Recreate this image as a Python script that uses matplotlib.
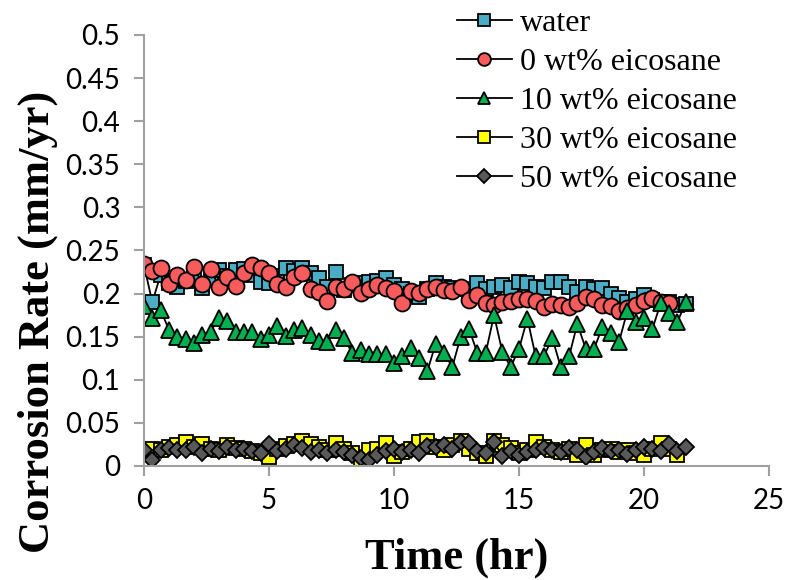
import matplotlib
matplotlib.use("Agg")
import matplotlib.pyplot as plt
import numpy as np

step = 1.0 / 3.0

water = [0.233, 0.190, 0.222, 0.212, 0.208, 0.215, 0.222, 0.206, 0.218, 0.227,
         0.220, 0.227, 0.229, 0.222, 0.214, 0.212, 0.220, 0.230, 0.226, 0.230,
         0.224, 0.218, 0.208, 0.225, 0.204, 0.210, 0.212, 0.213, 0.215, 0.218,
         0.210, 0.205, 0.200, 0.196, 0.205, 0.212, 0.208, 0.206, 0.205, 0.203,
         0.212, 0.205, 0.208, 0.210, 0.206, 0.213, 0.212, 0.208, 0.206, 0.213,
         0.213, 0.208, 0.202, 0.208, 0.205, 0.206, 0.200, 0.195, 0.190, 0.194,
         0.198, 0.192, 0.190, 0.190, 0.187, 0.188]

eic0 = [0.234, 0.226, 0.230, 0.211, 0.222, 0.216, 0.231, 0.211, 0.228, 0.208,
        0.219, 0.209, 0.224, 0.233, 0.230, 0.224, 0.211, 0.208, 0.219, 0.224,
        0.205, 0.202, 0.191, 0.208, 0.205, 0.213, 0.201, 0.205, 0.210, 0.206,
        0.203, 0.189, 0.203, 0.201, 0.205, 0.208, 0.204, 0.203, 0.208, 0.193,
        0.198, 0.189, 0.187, 0.190, 0.191, 0.194, 0.194, 0.191, 0.185, 0.188,
        0.187, 0.184, 0.189, 0.196, 0.194, 0.187, 0.186, 0.180, 0.183, 0.187,
        0.191, 0.195, 0.190, 0.189]

eic10 = [0.186, 0.172, 0.181, 0.158, 0.150, 0.147, 0.143, 0.152, 0.156, 0.172,
         0.168, 0.156, 0.156, 0.155, 0.147, 0.152, 0.162, 0.151, 0.158, 0.160,
         0.152, 0.145, 0.144, 0.158, 0.148, 0.131, 0.135, 0.130, 0.130, 0.130,
         0.120, 0.128, 0.137, 0.125, 0.110, 0.142, 0.131, 0.115, 0.150, 0.159,
         0.131, 0.131, 0.175, 0.132, 0.115, 0.136, 0.171, 0.127, 0.128, 0.148,
         0.115, 0.127, 0.165, 0.136, 0.136, 0.161, 0.154, 0.144, 0.180, 0.167,
         0.172, 0.159, 0.189, 0.177, 0.167, 0.190]

eic30 = [0.017, 0.020, 0.019, 0.022, 0.024, 0.028, 0.022, 0.025, 0.020, 0.018,
         0.024, 0.021, 0.020, 0.017, 0.015, 0.010, 0.020, 0.023, 0.026, 0.029,
         0.026, 0.022, 0.018, 0.027, 0.020, 0.015, 0.008, 0.018, 0.020, 0.027,
         0.012, 0.016, 0.020, 0.028, 0.029, 0.022, 0.018, 0.024, 0.029, 0.020,
         0.015, 0.012, 0.029, 0.024, 0.021, 0.015, 0.018, 0.028, 0.022, 0.018,
         0.016, 0.020, 0.013, 0.024, 0.013, 0.018, 0.020, 0.016, 0.018, 0.015,
         0.013, 0.020, 0.027, 0.020, 0.013]

eic50 = [0.019, 0.007, 0.019, 0.021, 0.019, 0.018, 0.022, 0.015, 0.020, 0.017,
         0.022, 0.019, 0.020, 0.017, 0.015, 0.026, 0.017, 0.020, 0.024, 0.021,
         0.016, 0.018, 0.015, 0.019, 0.016, 0.013, 0.009, 0.007, 0.013, 0.017,
         0.020, 0.016, 0.018, 0.015, 0.023, 0.022, 0.024, 0.020, 0.028, 0.027,
         0.017, 0.015, 0.028, 0.011, 0.017, 0.013, 0.016, 0.019, 0.021, 0.018,
         0.016, 0.021, 0.019, 0.010, 0.016, 0.021, 0.017, 0.019, 0.014, 0.018,
         0.022, 0.020, 0.017, 0.025, 0.017, 0.022]

labels = ["water", "0 wt% eicosane", "10 wt% eicosane", "30 wt% eicosane", "50 wt% eicosane"]
series = [water, eic0, eic10, eic30, eic50]
markers = ["s", "o", "^", "s", "D"]
colors = ["#4BACC6", "#F75B5B", "#00B050", "#FFFF00", "#595959"]
msizes = [10.5, 11.5, 11, 10, 8.5]

xticks = [0, 5, 10, 15, 20, 25]
yticks = [0, 0.05, 0.1, 0.15, 0.2, 0.25, 0.3, 0.35, 0.4, 0.45, 0.5]
ytick_labels = ["0", "0.05", "0.1", "0.15", "0.2", "0.25", "0.3", "0.35", "0.4", "0.45", "0.5"]

fig = plt.figure(figsize=(7.88, 5.8), dpi=100)
ax = fig.add_axes([0.1827, 0.1966, 0.976 - 0.1827, 0.9397 - 0.1966])

for vals, lab, mk, col, ms in zip(series, labels, markers, colors, msizes):
    t = np.arange(len(vals)) * step
    ax.plot(t, vals, color="black", lw=1.3, marker=mk, markersize=ms,
            markerfacecolor=col, markeredgecolor="black", markeredgewidth=1.3,
            label=lab)

ax.set_xlim(0, 25)
ax.set_ylim(0, 0.5)
ax.set_xticks(xticks)
ax.set_yticks(yticks)
ax.set_yticklabels(ytick_labels)

for s in ["top", "right"]:
    ax.spines[s].set_visible(False)
for s in ["left", "bottom"]:
    ax.spines[s].set_color("#A0A0A0")
    ax.spines[s].set_linewidth(1.5)
ax.tick_params(axis="both", direction="out", length=7, width=1.5, color="#A0A0A0",
               labelsize=20)
ax.tick_params(axis="y", pad=10)
ax.tick_params(axis="x", pad=9)
for lbl in ax.get_xticklabels() + ax.get_yticklabels():
    lbl.set_family("Lato")

ax.set_xlabel("Time (hr)", family="Liberation Serif", fontweight="bold", fontsize=32)
ax.xaxis.set_label_coords(0.5, -0.213)
ax.xaxis.label.set_va("center")
ax.set_ylabel("Corrosion Rate (mm/yr)", family="Liberation Serif", fontweight="bold", fontsize=32)
ax.yaxis.set_label_coords(-0.17, 0.334)
ax.yaxis.label.set_va("center")

leg = ax.legend(loc="upper left", frameon=False,
                prop={"family": "Liberation Serif", "size": 23},
                handlelength=1.7, handletextpad=0.25, labelspacing=0.3, borderpad=0.0,
                markerscale=0.8)
leg.set_bbox_to_anchor((0.560, 1.012), transform=fig.transFigure)

fig.savefig("out.png", dpi=100)
